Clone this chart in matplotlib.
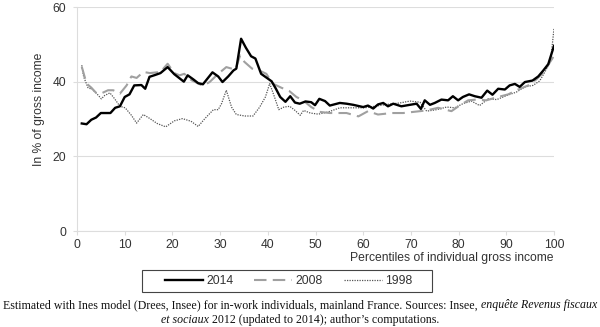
import matplotlib
matplotlib.use('Agg')
from matplotlib import pyplot as plt
from matplotlib.patches import Rectangle

# values (percentile, % of gross income)
pct_2014 = [1, 2, 3, 4, 5, 6, 7, 8, 9, 10, 11, 12, 13.5, 14.3, 15.2, 16.4, 17.5, 19, 20.4, 22.4,
            23.2, 24.4, 25.4, 26.4, 28.4, 29.6, 30.5, 31.7, 32.8, 33.4, 34.4, 35.4, 36.5, 37.4, 38.6,
            39.7, 40.8, 41.7, 42.6, 43.7, 44.7, 45.7, 46.7, 47.9, 49.1, 49.9, 50.8, 52, 53, 55.1,
            56.5, 57.9, 60, 61, 62.1, 63.1, 64.2, 65.2, 66.3, 68, 69.8, 71.2, 72.1, 72.9, 74, 75,
            76.4, 77.8, 78.8, 79.9, 80.9, 82.2, 83.4, 84.8, 86, 87.1, 88.3, 89.7, 90.7, 91.8, 92.8,
            93.9, 95.5, 96.7, 97.7, 98.8, 100]
val_2014 = [28.8, 28.6, 29.8, 30.4, 31.6, 31.6, 31.6, 33, 33.4, 35.9, 36.6, 39, 39.1, 38.1, 41.3,
            41.8, 42.3, 43.9, 42, 40, 41.7, 40.6, 39.6, 39.3, 42.5, 41.4, 39.9, 41.4, 43, 43.5, 51.5,
            49.1, 46.8, 46.2, 42.1, 41.1, 40.1, 38.1, 35.9, 34.6, 36.1, 34.4, 34.1, 34.7, 34.5, 33.7,
            35.4, 34.8, 33.6, 34.3, 34.1, 33.8, 33.2, 33.6, 32.8, 33.9, 34.3, 33.4, 34.1, 33.4, 33.8,
            34.1, 32.7, 35, 33.8, 34.3, 35.2, 35, 36.1, 35, 35.9, 36.6, 36.1, 35.7, 37.6, 36.5, 38.1,
            37.9, 39, 39.4, 38.6, 39.9, 40.3, 41.4, 42.9, 44.7, 49.6]

pct_2008 = [1, 2, 3, 4, 5, 6.5, 7.6, 9, 10.4, 11.4, 12.5, 13.9, 15.3, 17.5, 19, 20.4, 21.5, 22.5,
            24, 26.4, 27.8, 29.6, 31.3, 33.2, 34.2, 35.1, 36.7, 38.2, 39.7, 41, 42.8, 44.5, 46, 47.4,
            49.1, 50.9, 53, 56.5, 59, 61, 63.1, 66, 68.4, 71.2, 73.3, 75.7, 78.5, 80.2, 82, 83.7,
            85.8, 88.3, 90.4, 92.5, 94.6, 96.3, 98.1, 99.1, 100]
val_2008 = [44, 39.5, 38.4, 37, 36.8, 37.7, 37.7, 36.8, 39, 41.4, 41, 42.6, 42.3, 42.6, 44.8, 42.3,
            41.7, 42.1, 40.4, 38.9, 39.9, 42.1, 43.9, 43.2, 47, 45.3, 43.5, 43, 42.1, 39.5, 38.4,
            37.5, 35.9, 35, 33.2, 31.9, 31.6, 31.6, 30.7, 32.1, 31.2, 31.6, 31.6, 32, 32.3, 33, 32.1,
            33.6, 35, 35.2, 35, 35.9, 36.6, 37.9, 39, 40.6, 42.9, 45.1, 46.9]

pct_1998 = [1, 1.4, 2.3, 3.2, 4, 5.1, 5.8, 6.9, 7.9, 9, 10.1, 11.4, 12.5, 13.9, 15.3, 16.8, 18.6,
            20.4, 22.1, 23.9, 25.4, 26.8, 28.6, 29.6, 30.3, 31.3, 32.4, 33.4, 35.2, 36.9, 38.3, 39.5,
            40.4, 41.4, 42.3, 43.4, 44.6, 45.7, 46.8, 47.5, 48.9, 50.6, 52.7, 55.1, 57.9, 60.3, 62.4,
            64.9, 67.7, 69.8, 71.9, 73.3, 75.4, 77.5, 79.2, 80.9, 82.7, 84.4, 86.2, 88, 90.1, 92.1,
            93.9, 95.6, 97, 98.4, 99.4, 100]
val_1998 = [44.4, 41.3, 38.4, 37.9, 37, 35.4, 36.3, 37, 35.4, 33.4, 33, 31, 28.9, 31.2, 30.1, 28.8,
            27.9, 29.5, 30.1, 29.4, 28, 30.1, 32.5, 32.5, 34.1, 37.7, 33.2, 31.2, 30.8, 30.8, 33.2,
            35.9, 39.5, 35.9, 32.5, 33.2, 33.4, 32.3, 31, 32.3, 31.6, 31.3, 31.9, 33, 33, 33, 33.4,
            33.9, 34.3, 34.8, 34.5, 32.1, 32.5, 33.2, 33, 34.1, 34.8, 33.6, 35.4, 35.2, 36.3, 37.2,
            38.6, 39, 40.2, 43.3, 46.9, 54.3]

x_ticks = [0, 10, 20, 30, 40, 50, 60, 70, 80, 90, 100]
y_ticks = [0, 20, 40, 60]

caption_1 = [("Estimated with Ines model (Drees, Insee) for in-work individuals, mainland France. "
              "Sources: Insee,", 'normal'), ("enquête Revenus fiscaux", 'italic')]
caption_2 = [("et sociaux", 'italic'), ("2012 (updated to 2014); author\u2019s computations.", 'normal')]

FS = 8.7
plt.rcParams['font.family'] = ['Liberation Sans', 'DejaVu Sans']
plt.rcParams['font.size'] = FS

fig = plt.figure(figsize=(6, 3.27), dpi=100, facecolor='w')
ax = fig.add_axes([77 / 600, 1 - 231 / 327, 477 / 600, 224 / 327])

l14, = ax.plot(pct_2014, val_2014, color='black', lw=1.7, zorder=4, label='2014')
l08, = ax.plot(pct_2008, val_2008, color='#a0a0a0', lw=1.5, dashes=(6, 3), zorder=3, label='2008')
l98, = ax.plot(pct_1998, val_1998, color='#555555', lw=0.9, ls=(0, (1, 1)), zorder=2, label='1998')

ax.set_xlim(0, 100)
ax.set_ylim(0, 60)
ax.set_xticks(x_ticks)
ax.set_yticks(y_ticks)
ax.grid(axis='y', color='#dddddd', lw=0.8)
ax.set_axisbelow(True)
for side in ['top', 'right']:
    ax.spines[side].set_visible(False)
for side in ['left', 'bottom']:
    ax.spines[side].set_color('#dddddd')
    ax.spines[side].set_linewidth(0.8)
ax.tick_params(colors='#dddddd', labelcolor='#333333', length=3, width=0.8, labelsize=FS)
ax.tick_params(axis='x', pad=2.5)
ax.tick_params(axis='y', pad=5)

ax.set_xlabel("Percentiles of individual gross income", color='#333333', fontsize=FS, loc='right')
ax.xaxis.set_label_coords(1.0, -0.095)
ax.set_ylabel("In % of gross income", color='#333333', fontsize=FS)
ax.yaxis.set_label_coords(-0.067, 0.545)

leg = fig.legend(handles=[l14, l08, l98], ncol=3, loc='center',
                 bbox_to_anchor=(288.5 / 600, 1 - 281 / 327), frameon=False,
                 handlelength=3.15, handletextpad=0.25, columnspacing=1.75, fontsize=FS)
for t in leg.get_texts():
    t.set_color('#333333')
fig.add_artist(Rectangle((142 / 600, 1 - 292 / 327), 290 / 600, 22 / 327, transform=fig.transFigure,
                         fill=False, ec='#444444', lw=0.8))

# caption with mixed upright / italic pieces, centred line by line
r = fig.canvas.get_renderer()
W = fig.bbox.width


def caption_line(parts, ypix, size=8.55):
    texts = []
    for s, st in parts:
        texts.append(fig.text(0, 1 - ypix / 327, s, style=st, family='Liberation Serif',
                              size=size, va='center', ha='left', color='#111111'))
    gap = fig.text(0, 0, "a a", family='Liberation Serif', size=size)
    nogap = fig.text(0, 0, "aa", family='Liberation Serif', size=size)
    sp = gap.get_window_extent(r).width - nogap.get_window_extent(r).width
    gap.remove()
    nogap.remove()
    widths = [t.get_window_extent(r).width for t in texts]
    total = sum(widths) + sp * (len(texts) - 1)
    x = (W - total) / 2
    for t, w in zip(texts, widths):
        t.set_x(x / W)
        x += w + sp


caption_line(caption_1, 305)
caption_line(caption_2, 320)

fig.savefig('out.png', dpi=100, facecolor='w')
